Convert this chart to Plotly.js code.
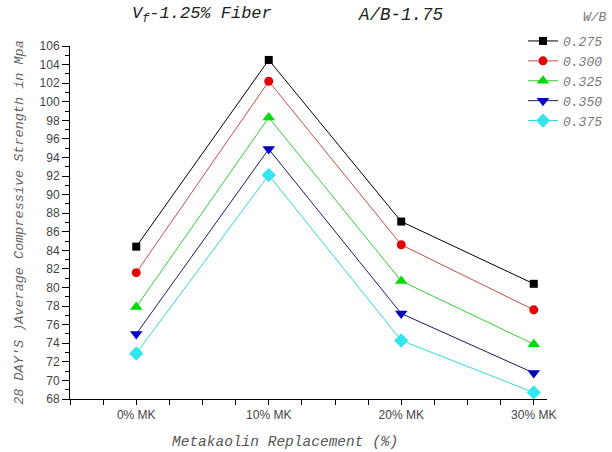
<!DOCTYPE html>
<html>
<head>
<meta charset="utf-8">
<script src="https://cdn.plot.ly/plotly-3.0.1.min.js"></script>
<style>html,body{margin:0;padding:0;background:#fff;}#chart{width:612px;height:452px;}</style>
</head>
<body>
<div id="chart"></div>
<script>
const categories = ['0% MK', '10% MK', '20% MK', '30% MK'];
const seriesNames = ['0.275', '0.300', '0.325', '0.350', '0.375'];
const wb275 = [84.4, 104.5, 87.1, 80.4];
const wb300 = [81.6, 102.2, 84.6, 77.6];
const wb325 = [77.9, 98.3, 80.7, 73.9];
const wb350 = [75.0, 94.9, 77.2, 70.8];
const wb375 = [72.9, 92.1, 74.3, 68.7];
const yTicks = [68,70,72,74,76,78,80,82,84,86,88,90,92,94,96,98,100,102,104,106];

const xIdx = categories.map((_, i) => i);
const seriesValues = [wb275, wb300, wb325, wb350, wb375];
const styles = [
  {line: '#000000', marker: '#000000', symbol: 'square', size: 8},
  {line: '#c84a4a', marker: '#e60000', symbol: 'circle', size: 9},
  {line: '#33cc33', marker: '#00dd00', symbol: 'triangle-up', size: 11},
  {line: '#1a1a66', marker: '#0000c0', symbol: 'triangle-down', size: 11},
  {line: '#33d6dd', marker: '#33e6ee', symbol: 'diamond', size: 11}
];

const traces = seriesValues.map((vals, i) => ({
  type: 'scatter',
  mode: 'lines+markers',
  name: seriesNames[i],
  x: xIdx,
  y: vals,
  line: {color: styles[i].line, width: 1},
  marker: {color: styles[i].marker, symbol: styles[i].symbol, size: styles[i].size}
}));

const px2x = p => (p - 70) / 477;
const px2y = p => (399 - p) / 353;

const layout = {
  width: 612, height: 452,
  paper_bgcolor: '#fff', plot_bgcolor: '#fff',
  margin: {l: 70, r: 65, t: 46, b: 53, autoexpand: false},
  showlegend: true,
  legend: {
    x: px2x(523), xanchor: 'left', y: px2y(26), yanchor: 'top',
    font: {family: 'Liberation Mono, monospace', style: 'italic', color: '#777', size: 13},
    bgcolor: 'rgba(0,0,0,0)', itemwidth: 30, tracegroupgap: 0
  },
  xaxis: {
    range: [-0.5, 3.1],
    tickmode: 'array', tickvals: xIdx, ticktext: categories,
    ticks: 'outside', ticklen: 5, tickcolor: '#000', tickwidth: 1,
    minor: {tickmode: 'linear', tick0: 0, dtick: 0.25, ticks: 'outside', ticklen: 5, tickcolor: '#000', showgrid: false},
    showline: true, linecolor: '#000', linewidth: 1,
    showgrid: false, zeroline: false,
    tickfont: {family: 'Liberation Sans, Arial, sans-serif', size: 12, color: '#444'}
  },
  yaxis: {
    range: [68, 106],
    tickmode: 'array', tickvals: yTicks,
    ticks: 'outside', ticklen: 7, tickcolor: '#000', tickwidth: 1,
    minor: {tickmode: 'linear', tick0: 68, dtick: 1, ticks: 'outside', ticklen: 4, tickcolor: '#000', showgrid: false},
    showline: true, linecolor: '#000', linewidth: 1,
    showgrid: false, zeroline: false,
    tickfont: {family: 'Liberation Sans, Arial, sans-serif', size: 12, color: '#444'},
    title: {text: "28 DAY'S )Average Compressive Strength in Mpa", font: {family: 'Liberation Mono, monospace', style: 'italic', color: '#666', size: 13.5}, standoff: 12}
  },
  annotations: [
    {xref: 'paper', yref: 'paper', x: px2x(285), y: px2y(442), xanchor: 'center', yanchor: 'middle', showarrow: false,
     text: 'Metakaolin Replacement (%)', font: {family: 'Liberation Mono, monospace', style: 'italic', color: '#555', size: 14.5}},
    {xref: 'paper', yref: 'paper', x: px2x(130), y: px2y(15), xanchor: 'left', yanchor: 'middle', showarrow: false,
     text: 'V<sub>f</sub>-1.25% Fiber', font: {family: 'Liberation Mono, monospace', style: 'italic', color: '#222', size: 17}},
    {xref: 'paper', yref: 'paper', x: px2x(356), y: px2y(15), xanchor: 'left', yanchor: 'middle', showarrow: false,
     text: 'A/B-1.75', font: {family: 'Liberation Mono, monospace', style: 'italic', color: '#222', size: 17.5}},
    {xref: 'paper', yref: 'paper', x: px2x(609), y: px2y(18), xanchor: 'right', yanchor: 'middle', showarrow: false,
     text: 'W/B', font: {family: 'Liberation Mono, monospace', style: 'italic', color: '#777', size: 13}}
  ]
};

Plotly.newPlot('chart', traces, layout, {displayModeBar: false, staticPlot: true});
</script>
</body>
</html>
